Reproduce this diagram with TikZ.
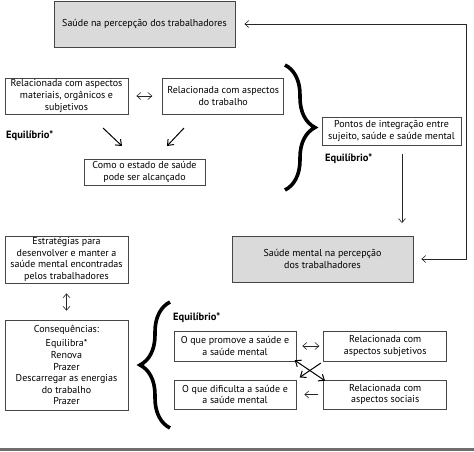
\documentclass[tikz,border=0pt]{standalone}
\usepackage{fontspec}
\setmainfont{PT Sans}
\usepackage{tikz}
\usetikzlibrary{arrows,arrows.meta,positioning,decorations.pathreplacing}
\definecolor{boxgray}{RGB}{218,218,218}
\definecolor{linegray}{RGB}{70,70,70}
\definecolor{rulegray}{RGB}{110,110,110}
\tikzstyle{box} = [rectangle, draw=linegray, line width=0.7pt, align=center, inner sep=1pt, font=\fontsize{10}{11.6}\selectfont]
\tikzstyle{graybox} = [box, fill=boxgray]
\tikzstyle{arrow} = [->, >={Straight Barb[length=4pt,width=7pt]}, line width=0.6pt, color=black!85]
\tikzstyle{twoway} = [<->, >={Straight Barb[length=4pt,width=7pt]}, line width=0.6pt, color=black!85]
\tikzstyle{bold arrow} = [line width=1pt, >={Straight Barb[length=5pt,width=8pt]}, color=black]
\tikzstyle{eqtext} = [anchor=west, inner sep=0pt, font=\fontsize{10.5}{12}\selectfont\bfseries]
\tikzstyle{bigbrace} = [decorate, decoration={brace, amplitude=30pt}, line width=3.6pt]

\begin{document}
\begin{tikzpicture}[x=1pt, y=-1pt]
\useasboundingbox (0,0) rectangle (474,451);

% Health as seen by the workers
\node (saude) [graybox, minimum width=181pt, minimum height=46pt] at (144.5,24) {Saúde na percepção dos trabalhadores};

\node (materiais) [box, minimum width=123pt, minimum height=36pt] at (66.5,96) {Relacionada com aspectos\\materiais, orgânicos e\\subjetivos};
\node (trabalho) [box, minimum width=121pt, minimum height=36pt, right=34pt of materiais] {Relacionada com aspectos\\do trabalho};
\node (eqa) [eqtext] at (6,136) {Equilíbrio*};
\node (estado) [box, minimum width=121pt, minimum height=26pt] at (144.5,172) {Como o estado de saúde\\pode ser alcançado};

\coordinate (da1) at (103,128);
\coordinate (da2) at (122,146);
\coordinate (db1) at (184,128);
\coordinate (db2) at (167,146);

\draw[twoway, shorten <=8pt, shorten >=10pt] (materiais) -- (trabalho);
\draw[arrow, bold arrow] (da1) -- (da2);
\draw[arrow, bold arrow] (db1) -- (db2);

\draw[bigbrace] (285,65) -- (285,190);

\node (pontos) [box, minimum width=139pt, minimum height=28pt] at (391.5,131) {Pontos de integração entre\\sujeito, saúde e saúde mental};
\node (eqb) [eqtext] at (325,159) {Equilíbrio*};

% Mental health as seen by the workers
\node (mental) [graybox, minimum width=181pt, minimum height=46pt] at (322.5,259) {Saúde mental na percepção\\dos trabalhadores};

\coordinate (down1) at (402,154);
\coordinate (down2) at (402,223);
\draw[arrow] (down1) -- (down2);

\coordinate (rt) at (466,0);
\draw[twoway, shorten <=9pt, shorten >=8pt] (saude.east) -| (rt |- mental.east) -- (mental.east);

% Lower part
\node (estrat) [box, minimum width=123pt, minimum height=47pt] at (66.5,259.5) {Estratégias para\\desenvolver e manter a\\saúde mental encontradas\\pelos trabalhadores};
\node (conseq) [box, minimum width=123pt, minimum height=90pt] at (66.5,365) {Consequências:\\[3pt]Equilibra*\\Renova\\Prazer\\Descarregar as energias\\do trabalho\\Prazer};
\draw[twoway, shorten <=10pt, shorten >=9pt] (estrat) -- (conseq);

\draw[bigbrace] (170,428) -- (170,302);
\node (eqc) [eqtext] at (173,318) {Equilíbrio*};

\node (promove) [box, minimum width=122pt, minimum height=30pt] at (235,346) {O que promove a saúde e\\a saúde mental};
\node (subjet) [box, minimum width=123pt, minimum height=30pt, right=27pt of promove] {Relacionada com\\aspectos subjetivos};
\node (dificulta) [box, minimum width=122pt, minimum height=29pt] at (235,394.5) {O que dificulta a saúde e\\a saúde mental};
\node (sociais) [box, minimum width=123pt, minimum height=29pt, right=27pt of dificulta] {Relacionada com\\aspectos sociais};

\draw[twoway, shorten <=6pt, shorten >=4pt] (promove) -- (subjet);
\draw[arrow, shorten <=5pt, shorten >=8pt] (sociais) -- (dificulta);
\draw[twoway, bold arrow, shorten <=-2pt, shorten >=-2pt] (promove.south east) -- (sociais.north west);
\draw[arrow, bold arrow, shorten <=3pt, shorten >=4pt] (subjet.south west) -- (dificulta.north east);

% Bottom rule
\draw[line width=2.5pt, color=rulegray] (0,449.5) -- (474,449.5);
\end{tikzpicture}
\end{document}
